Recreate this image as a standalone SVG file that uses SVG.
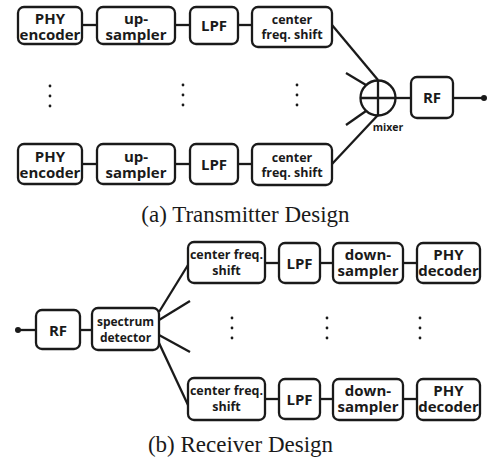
<svg xmlns="http://www.w3.org/2000/svg" width="487" height="460" viewBox="0 0 487 460">
<style>
.b{fill:#fff;stroke:#1a1a1a;stroke-width:2.3}
.t{font-family:"Open Sans","Noto Sans",sans-serif;font-weight:bold;font-size:15px;fill:#1a1a1a;text-anchor:middle}
.s{font-size:12.5px}
.p{font-size:12px}
.m{font-size:10.5px}
.l{stroke:#1a1a1a;stroke-width:2.3;fill:none}
.d{fill:#1a1a1a}
.cap{font-family:"Liberation Serif",serif;font-size:23px;fill:#1a1a1a;text-anchor:middle}
</style>
<g id="connectors">
<line class="l" x1="82" y1="25" x2="97" y2="25"/>
<line class="l" x1="175" y1="25" x2="190" y2="25"/>
<line class="l" x1="238" y1="25" x2="252" y2="25"/>
<line class="l" x1="82" y1="164" x2="97" y2="164"/>
<line class="l" x1="175" y1="164" x2="190" y2="164"/>
<line class="l" x1="238" y1="164" x2="252" y2="164"/>
<line class="l" x1="332" y1="25" x2="378" y2="80"/>
<line class="l" x1="332" y1="164" x2="378" y2="115"/>
<line class="l" x1="346" y1="73" x2="366" y2="85"/>
<line class="l" x1="346" y1="125" x2="366" y2="111"/>
<line class="l" x1="395.5" y1="98" x2="411" y2="98"/>
<line class="l" x1="453" y1="98" x2="484" y2="98"/>
<line class="l" x1="18" y1="330" x2="36" y2="330"/>
<line class="l" x1="80" y1="330" x2="92" y2="330"/>
<line class="l" x1="159" y1="312" x2="188" y2="265"/>
<line class="l" x1="159" y1="320" x2="190" y2="301"/>
<line class="l" x1="159" y1="335" x2="190" y2="352"/>
<line class="l" x1="159" y1="343" x2="188" y2="405"/>
<line class="l" x1="265" y1="263" x2="279" y2="263"/>
<line class="l" x1="320" y1="263" x2="333" y2="263"/>
<line class="l" x1="403" y1="263" x2="417" y2="263"/>
<line class="l" x1="265" y1="399" x2="279" y2="399"/>
<line class="l" x1="320" y1="399" x2="333" y2="399"/>
<line class="l" x1="403" y1="399" x2="417" y2="399"/>
</g>
<g id="tx-phy1"><rect class="b" x="18" y="7" width="64" height="37" rx="6"/><text class="t" x="50" y="24">PHY</text><text class="t" x="50" y="39.5">encoder</text></g>
<g id="tx-up1"><rect class="b" x="97" y="7" width="78" height="37" rx="6"/><text class="t" x="136" y="24">up-</text><text class="t" x="136" y="39.5">sampler</text></g>
<g id="tx-lpf1"><rect class="b" x="190" y="7" width="48" height="37" rx="6"/><text class="t" x="214" y="31">LPF</text></g>
<g id="tx-cfs1"><rect class="b" x="252" y="7" width="80" height="40" rx="6"/><text class="t s" x="292" y="24">center</text><text class="t s" x="292" y="39">freq. shift</text></g>
<g id="tx-phy2"><rect class="b" x="18" y="144" width="64" height="40" rx="6"/><text class="t" x="50" y="161.5">PHY</text><text class="t" x="50" y="177.5">encoder</text></g>
<g id="tx-up2"><rect class="b" x="97" y="144" width="78" height="40" rx="6"/><text class="t" x="136" y="161.5">up-</text><text class="t" x="136" y="177.5">sampler</text></g>
<g id="tx-lpf2"><rect class="b" x="190" y="144" width="48" height="40" rx="6"/><text class="t" x="214" y="169.5">LPF</text></g>
<g id="tx-cfs2"><rect class="b" x="252" y="144" width="80" height="41" rx="6"/><text class="t s" x="292" y="161.5">center</text><text class="t s" x="292" y="177">freq. shift</text></g>
<g id="mixer"><circle class="l" cx="378" cy="98" r="17.5" fill="#fff"/><line class="l" x1="378" y1="80.5" x2="378" y2="115.5"/><line class="l" x1="360.5" y1="98" x2="395.5" y2="98"/><text class="t m" x="388" y="131">mixer</text></g>
<g id="tx-rf"><rect class="b" x="411" y="77" width="42" height="41" rx="6"/><text class="t" x="432" y="103">RF</text></g>
<circle class="d" cx="484" cy="98" r="3"/>
<g id="tx-dots" class="d">
<circle cx="50" cy="86" r="1.4"/><circle cx="50" cy="96" r="1.4"/><circle cx="50" cy="106" r="1.4"/>
<circle cx="183" cy="85" r="1.4"/><circle cx="183" cy="95" r="1.4"/><circle cx="183" cy="105" r="1.4"/>
<circle cx="297" cy="85" r="1.4"/><circle cx="297" cy="95" r="1.4"/><circle cx="297" cy="105" r="1.4"/>
</g>
<text class="cap" x="245.5" y="222">(a) Transmitter Design</text>
<circle class="d" cx="18" cy="330" r="3"/>
<g id="rx-rf"><rect class="b" x="36" y="310" width="44" height="39" rx="6"/><text class="t" x="58" y="335.5">RF</text></g>
<g id="rx-sd"><rect class="b" x="92" y="308" width="67" height="42" rx="6"/><text class="t p" x="125.5" y="326">spectrum</text><text class="t p" x="125.5" y="341.5">detector</text></g>
<g id="rx-cfs1"><rect class="b" x="188" y="242" width="77" height="41" rx="6"/><text class="t s" x="226.5" y="259">center freq.</text><text class="t s" x="226.5" y="275">shift</text></g>
<g id="rx-lpf1"><rect class="b" x="279" y="243" width="41" height="40" rx="6"/><text class="t" x="299.5" y="269">LPF</text></g>
<g id="rx-ds1"><rect class="b" x="333" y="243" width="70" height="40" rx="6"/><text class="t" x="368" y="260">down-</text><text class="t" x="368" y="276">sampler</text></g>
<g id="rx-phy1"><rect class="b" x="417" y="243" width="63" height="40" rx="6"/><text class="t" x="448.5" y="260">PHY</text><text class="t" x="448.5" y="276">decoder</text></g>
<g id="rx-cfs2"><rect class="b" x="188" y="378" width="77" height="42" rx="6"/><text class="t s" x="226.5" y="395">center freq.</text><text class="t s" x="226.5" y="411">shift</text></g>
<g id="rx-lpf2"><rect class="b" x="279" y="379" width="41" height="40" rx="6"/><text class="t" x="299.5" y="405">LPF</text></g>
<g id="rx-ds2"><rect class="b" x="333" y="379" width="70" height="41" rx="6"/><text class="t" x="368" y="396">down-</text><text class="t" x="368" y="412">sampler</text></g>
<g id="rx-phy2"><rect class="b" x="417" y="379" width="63" height="41" rx="6"/><text class="t" x="448.5" y="396">PHY</text><text class="t" x="448.5" y="412">decoder</text></g>
<g id="rx-dots" class="d">
<circle cx="232" cy="318" r="1.4"/><circle cx="232" cy="328" r="1.4"/><circle cx="232" cy="338" r="1.4"/>
<circle cx="327" cy="318" r="1.4"/><circle cx="327" cy="328" r="1.4"/><circle cx="327" cy="338" r="1.4"/>
<circle cx="420" cy="318" r="1.4"/><circle cx="420" cy="328" r="1.4"/><circle cx="420" cy="338" r="1.4"/>
</g>
<text class="cap" x="240.5" y="452">(b) Receiver Design</text>
</svg>
